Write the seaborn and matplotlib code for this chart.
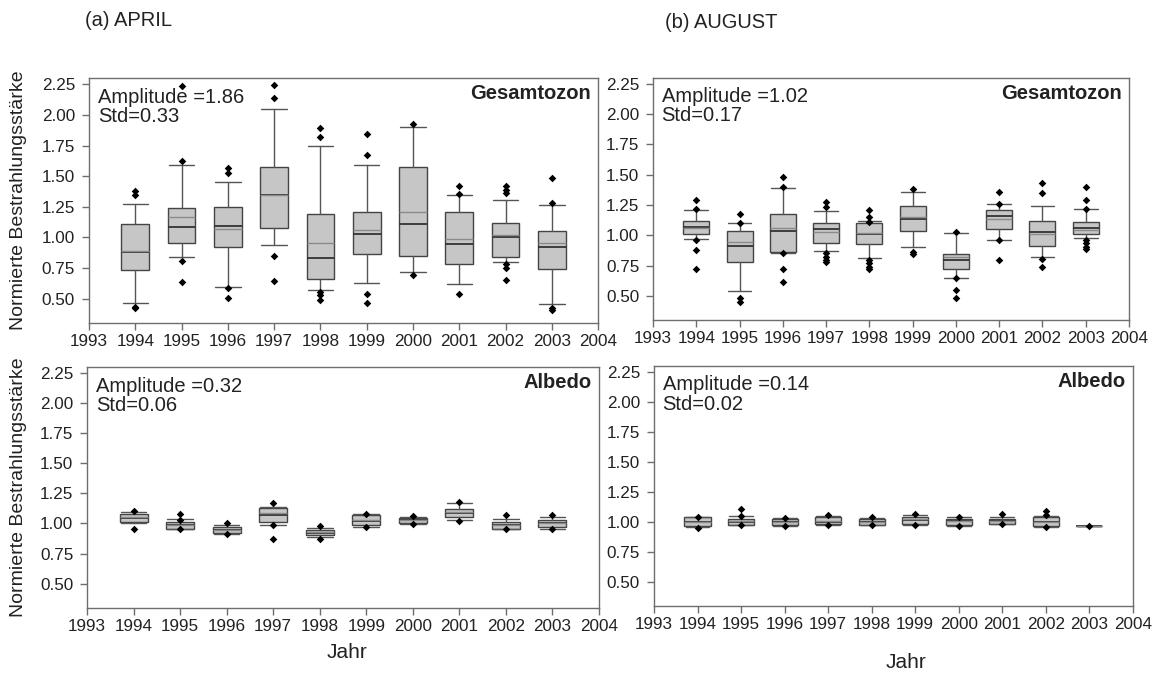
import numpy as np
import pandas as pd
import matplotlib
matplotlib.use("Agg")
import matplotlib.pyplot as plt
import seaborn as sns

sns.set_theme(style="white")
plt.rcParams["font.family"] = ["Liberation Sans", "DejaVu Sans"]

years = [1994, 1995, 1996, 1997, 1998, 1999, 2000, 2001, 2002, 2003]
year_ticks = list(range(1993, 2005))
y_ticks = [0.50, 0.75, 1.00, 1.25, 1.50, 1.75, 2.00, 2.25]

# April, total ozone
apr_oz_q1 = [0.73, 0.955, 0.92, 1.08, 0.663, 0.86, 0.846, 0.786, 0.84, 0.74]
apr_oz_med = [0.88, 1.085, 1.095, 1.345, 0.832, 1.026, 1.105, 0.944, 1.004, 0.92]
apr_oz_mean = [0.885, 1.165, 1.066, 1.345, 0.955, 1.058, 1.208, 0.99, 1.023, 0.955]
apr_oz_q3 = [1.11, 1.236, 1.249, 1.576, 1.189, 1.208, 1.576, 1.208, 1.118, 1.05]
apr_oz_wlo = [0.46, 0.84, 0.595, 0.936, 0.568, 0.628, 0.718, 0.622, 0.80, 0.459]
apr_oz_whi = [1.27, 1.587, 1.453, 2.045, 1.745, 1.593, 1.903, 1.345, 1.304, 1.263]
apr_oz_out = [[1.377, 1.345, 0.43, 0.42], [2.236, 1.625, 0.81, 0.636],
              [1.563, 1.522, 0.582, 0.508], [2.244, 2.14, 0.846, 0.641],
              [1.89, 1.816, 0.554, 0.527, 0.486], [1.843, 1.669, 0.533, 0.467],
              [1.923, 0.696], [1.418, 1.35, 0.54],
              [1.418, 1.386, 1.359, 0.78, 0.75, 0.65], [1.481, 1.282, 0.426, 0.404]]

# August, total ozone
aug_oz_q1 = [1.01, 0.782, 0.865, 0.939, 0.925, 1.035, 0.72, 1.051, 0.914, 1.01]
aug_oz_med = [1.07, 0.911, 1.035, 1.051, 1.01, 1.132, 0.796, 1.158, 1.03, 1.057]
aug_oz_mean = [1.06, 0.947, 1.06, 1.03, 1.02, 1.153, 0.818, 1.131, 1.01, 1.04]
aug_oz_q3 = [1.12, 1.037, 1.172, 1.103, 1.10, 1.243, 0.846, 1.208, 1.117, 1.112]
aug_oz_wlo = [0.967, 0.541, 0.851, 0.873, 0.81, 0.90, 0.65, 0.961, 0.823, 0.975]
aug_oz_whi = [1.208, 1.098, 1.391, 1.20, 1.12, 1.353, 1.016, 1.255, 1.241, 1.214]
aug_oz_out = [[1.29, 1.216, 0.961, 0.879, 0.722], [1.175, 1.103, 0.481, 0.453],
              [1.482, 1.394, 0.851, 0.722, 0.615], [1.271, 1.235, 0.851, 0.824, 0.796, 0.777],
              [1.208, 1.153, 1.112, 0.796, 0.769, 0.742, 0.72], [1.38, 0.865, 0.843],
              [1.03, 0.648, 0.549, 0.481], [1.358, 1.26, 0.961, 0.796],
              [1.433, 1.345, 0.801, 0.735], [1.40, 1.29, 1.22, 0.961, 0.934, 0.906, 0.885]]

# April, albedo
apr_al_q1 = [1.013, 0.952, 0.917, 1.013, 0.903, 0.986, 1.008, 1.05, 0.958, 0.967]
apr_al_med = [1.047, 0.986, 0.944, 1.069, 0.92, 1.022, 1.03, 1.089, 0.986, 1.0]
apr_al_mean = [1.05, 0.99, 0.944, 1.09, 0.925, 1.03, 1.03, 1.095, 0.99, 1.0]
apr_al_q3 = [1.083, 1.013, 0.972, 1.13, 0.944, 1.069, 1.044, 1.117, 1.013, 1.028]
apr_al_wlo = [1.0, 0.952, 0.91, 0.99, 0.89, 0.97, 0.995, 1.03, 0.95, 0.958]
apr_al_whi = [1.095, 1.04, 0.99, 1.14, 0.96, 1.075, 1.055, 1.172, 1.04, 1.055]
apr_al_out = [[1.105, 0.95], [1.075, 1.03, 0.952], [1.005, 0.91], [1.167, 0.986, 0.867],
              [0.978, 0.867], [1.078, 0.967], [1.061, 0.994], [1.18, 1.019],
              [1.067, 0.95], [1.067, 0.958]]

# August, albedo
aug_al_q1 = [0.964, 0.972, 0.972, 0.98, 0.978, 0.986, 0.972, 0.986, 0.964, 0.967]
aug_al_med = [1.0, 1.0, 0.995, 1.0, 1.0, 1.014, 1.005, 1.005, 1.0, 0.967]
aug_al_mean = [1.0, 1.01, 1.0, 1.005, 1.0, 1.02, 1.01, 1.01, 1.0, 0.967]
aug_al_q3 = [1.037, 1.028, 1.02, 1.037, 1.022, 1.042, 1.028, 1.022, 1.037, 0.967]
aug_al_wlo = [0.96, 0.97, 0.965, 0.975, 0.97, 0.975, 0.965, 0.98, 0.96, 0.967]
aug_al_whi = [1.04, 1.045, 1.03, 1.05, 1.035, 1.06, 1.04, 1.04, 1.05, 0.967]
aug_al_out = [[1.04, 0.945], [1.106, 1.048, 0.972], [1.035, 0.965], [1.056, 0.972],
              [1.037, 0.97], [1.064, 0.972], [1.042, 0.964], [1.064, 0.98],
              [1.092, 1.06, 0.955], [0.967]]

panel_stats = ["Amplitude =1.86\nStd=0.33", "Amplitude =1.02\nStd=0.17",
               "Amplitude =0.32\nStd=0.06", "Amplitude =0.14\nStd=0.02"]
panel_names = ["Gesamtozon", "Gesamtozon", "Albedo", "Albedo"]

panels = [
    (apr_oz_q1, apr_oz_med, apr_oz_mean, apr_oz_q3, apr_oz_wlo, apr_oz_whi, apr_oz_out),
    (aug_oz_q1, aug_oz_med, aug_oz_mean, aug_oz_q3, aug_oz_wlo, aug_oz_whi, aug_oz_out),
    (apr_al_q1, apr_al_med, apr_al_mean, apr_al_q3, apr_al_wlo, apr_al_whi, apr_al_out),
    (aug_al_q1, aug_al_med, aug_al_mean, aug_al_q3, aug_al_wlo, aug_al_whi, aug_al_out),
]

axes_rects = [
    [0.0772, 0.525, 0.4415, 0.360],
    [0.5664, 0.529, 0.4128, 0.357],
    [0.0755, 0.1066, 0.4440, 0.353],
    [0.5672, 0.1090, 0.4154, 0.353],
]

fig = plt.figure(figsize=(11.53, 6.8), dpi=100)
spine_col = "#6e6e6e"
text_col = "#222222"

for i, (data, rect) in enumerate(zip(panels, axes_rects)):
    q1, med, mean, q3, wlo, whi, out = data
    ax = fig.add_axes(rect)
    stats = [dict(q1=a, med=b, mean=c, q3=d, whislo=e, whishi=f, fliers=[])
             for a, b, c, d, e, f in zip(q1, med, mean, q3, wlo, whi)]
    ax.bxp(stats, positions=years, widths=0.6, capwidths=0.55,
           patch_artist=True, showmeans=True, meanline=True, showfliers=False,
           boxprops=dict(facecolor="#c6c6c6", edgecolor="#444444", linewidth=1.0),
           medianprops=dict(color="#333333", linewidth=1.3),
           meanprops=dict(color="#8a8a8a", linewidth=1.0, linestyle="-"),
           whiskerprops=dict(color="#555555", linewidth=1.0),
           capprops=dict(color="#555555", linewidth=1.0),
           manage_ticks=False)
    fl = pd.DataFrame({"Jahr": [y for y, o in zip(years, out) for _ in o],
                       "Wert": [v for o in out for v in o]})
    sns.scatterplot(data=fl, x="Jahr", y="Wert", ax=ax, marker="D", s=15,
                    color="black", linewidth=0, zorder=5, legend=False)

    ax.set_xlim(1993, 2004)
    ax.set_ylim(0.3, 2.3)
    ax.set_xticks(year_ticks)
    ax.set_xticklabels([str(y) for y in year_ticks])
    ax.set_yticks(y_ticks)
    ax.set_yticklabels([f"{v:.2f}" for v in y_ticks])
    ax.set_xlabel("")
    ax.set_ylabel("")
    ax.tick_params(axis="both", which="major", direction="out", length=5, width=1,
                   color=spine_col, labelsize=12.3, labelcolor=text_col,
                   bottom=True, left=True)
    ax.tick_params(axis="x", pad=3)
    ax.tick_params(axis="y", pad=5)
    for s in ax.spines.values():
        s.set_color(spine_col)
        s.set_linewidth(1.0)
        s.set_visible(True)

    ax.text(0.018, 0.962, panel_stats[i], transform=ax.transAxes, ha="left", va="top",
            fontsize=14.5, color=text_col, linespacing=1.05)
    ax.text(0.985, 0.975, panel_names[i], transform=ax.transAxes, ha="right", va="top",
            fontsize=14.5, fontweight="bold", color=text_col)

    if i in (0, 2):
        ax.set_ylabel("Normierte Bestrahlungsstärke", fontsize=14, color=text_col)
        left_px = rect[0] * 1153
        width_px = rect[2] * 1153
        ax.yaxis.set_label_coords((27 - left_px) / width_px, 0.5)

fig.text(85 / 1153, 1 - 20 / 680, "(a) APRIL", ha="left", va="center",
         fontsize=14.5, color=text_col)
fig.text(665 / 1153, 1 - 22 / 680, "(b) AUGUST", ha="left", va="center",
         fontsize=14.5, color=text_col)
fig.text(347 / 1153, 1 - 652 / 680, "Jahr", ha="center", va="center",
         fontsize=15, color=text_col)
fig.text(906 / 1153, 1 - 662 / 680, "Jahr", ha="center", va="center",
         fontsize=15, color=text_col)

fig.savefig("out.png", dpi=100, facecolor="white")
